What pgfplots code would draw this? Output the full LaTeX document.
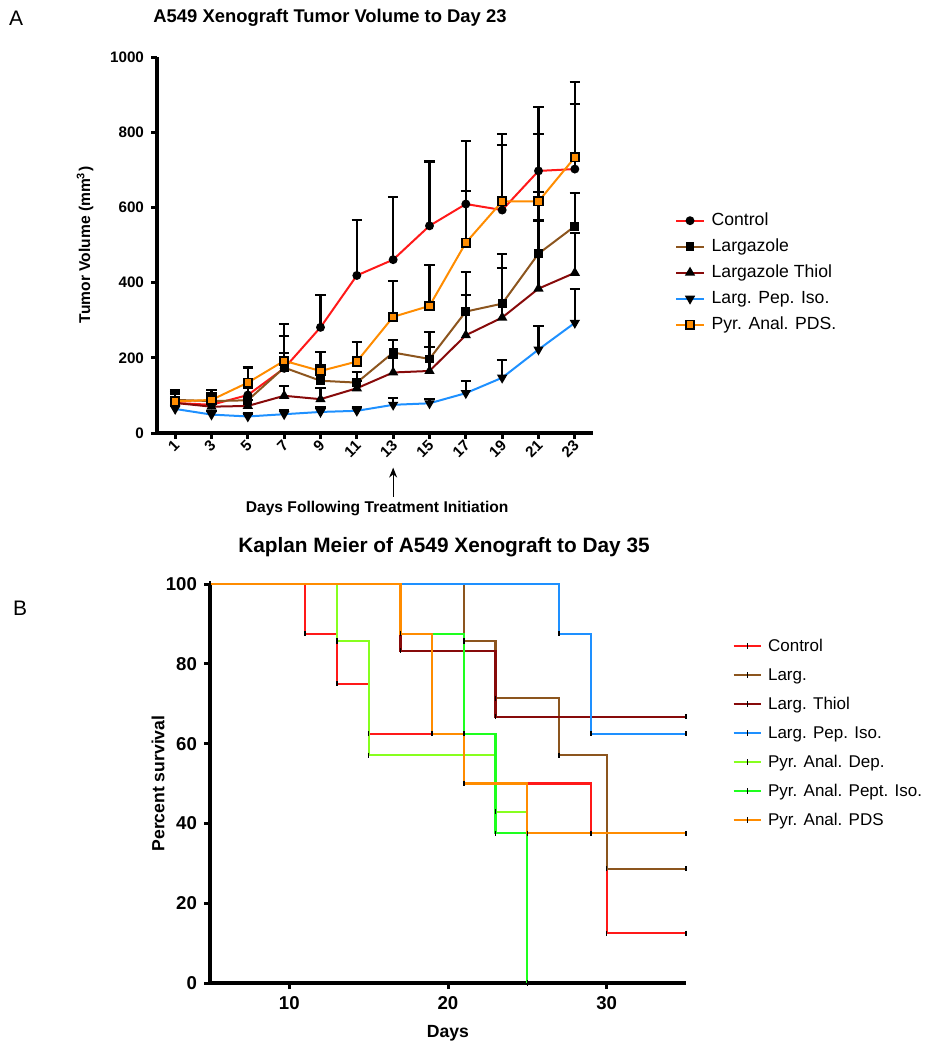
\documentclass[border=0pt]{standalone}
\usepackage{pgfplots}
\pgfplotsset{compat=1.18}
\usepackage{fontspec}
\setmainfont{Liberation Sans}
\usetikzlibrary{arrows.meta}
\definecolor{cCtrl}{RGB}{255,25,25}
\definecolor{cLarg}{RGB}{140,85,30}
\definecolor{cThiol}{RGB}{135,10,10}
\definecolor{cPep}{RGB}{30,144,255}
\definecolor{cPDS}{RGB}{255,140,0}
\definecolor{cDep}{RGB}{135,255,30}
\definecolor{cPept}{RGB}{30,255,30}

\pgfplotstableread{
x y e
1 80 33
3 75 40
5 101 20
7 172 118
9 281 87
11 419 148
13 461 166
15 551 171
17 609 168
19 593 203
21 697 170
23 702 172
}\ctrl
\pgfplotstableread{
x y e
1 88 15
3 85 20
5 87 37
7 174 38
9 139 42
11 134 28
13 214 33
15 197 72
17 323 105
19 344 133
21 477 163
23 550 88
}\larg
\pgfplotstableread{
x y e
1 80 10
3 70 10
5 72 15
7 99 25
9 90 30
11 119 20
13 161 40
15 165 64
17 260 108
19 307 132
21 384 181
23 426 105
}\thiol
\pgfplotstableread{
x y e
1 64 10
3 49 10
5 44 8
7 50 10
9 56 12
11 59 10
13 75 18
15 79 11
17 106 33
19 147 47
21 222 63
23 293 91
}\pep
\pgfplotstableread{
x y e
1 84 25
3 88 27
5 134 40
7 192 67
9 165 51
11 190 51
13 309 96
15 338 108
17 506 137
19 616 150
21 616 180
23 733 201
}\pds

\pgfplotsset{
  mystyle/.style={
    scale only axis,
    anchor=south west,
    axis lines=left,
    axis line style={-, line width=1.75pt, black},
    x axis line style={-},
    y axis line style={-},
    tick align=outside,
    major tick length=3pt,
    tick style={line width=1.5pt, black},
    /pgf/number format/assume math mode=true,
    /pgf/number format/set thousands separator={},
    legend cell align=left,
    legend image code/.code={\draw[mark repeat=2,mark phase=2,##1] plot coordinates {(0cm,0cm)(0.24cm,0cm)(0.48cm,0cm)};},
  },
  ebar/.style={error bars/.cd, y dir=plus, y explicit,
    error bar style={line width=1.1pt, black},
    error mark options={line width=1.1pt, black, mark size=2.6pt, rotate=90}},
}

\begin{document}
\begin{tikzpicture}
\useasboundingbox (0,0) rectangle (462.5pt,-525pt);
\node[font=\fontsize{10.5}{12}\selectfont, anchor=west] at (1pt,-9pt) {A};
\node[font=\fontsize{10.5}{12}\selectfont, anchor=west] at (3pt,-304pt) {B};
\node[font=\bfseries\fontsize{9.2}{11}\selectfont] at (165pt,-9pt) {A549 Xenograft Tumor Volume to Day 23};
\node[font=\bfseries\fontsize{10.4}{12}\selectfont] at (222pt,-273.5pt) {Kaplan Meier of A549 Xenograft to Day 35};

\begin{axis}[mystyle,
  at={(78.5pt,-216.5pt)}, width=218pt, height=188pt,
  xmin=0, xmax=24, ymin=0, ymax=1000,
  xtick={1,3,...,23}, ytick={0,200,...,1000},
  clip=false,
  tick label style={font=\bfseries\fontsize{7.6}{9}\selectfont},
  xticklabel style={rotate=45, anchor=east, inner sep=0.3pt, xshift=-0.5pt, yshift=-2pt},
  every axis y label/.style={at={(axis description cs:-0.165,0.5)}, rotate=90, anchor=center, font=\bfseries\fontsize{7.8}{9}\selectfont},
  ylabel={Tumor Volume (mm\textsuperscript{3})},
  every axis x label/.style={at={(axis description cs:0.505,-0.202)}, anchor=center, font=\bfseries\fontsize{7.8}{9}\selectfont},
  xlabel={Days Following Treatment Initiation},
  legend style={at={(axis description cs:1.188,0.595)}, anchor=north west, draw=none, fill=none, inner sep=0pt,
    font=\fontsize{8.8}{10}\selectfont, row sep=2pt, column sep=2.5pt,
    nodes={inner sep=1pt, text height=7pt, text depth=2pt}},
]
\addplot[cCtrl, line width=1pt, mark=*, mark size=1.7pt, mark options={black, fill=black}, ebar] table[x=x,y=y,y error=e] {\ctrl};
\addlegendentry{Control}
\addplot[cLarg, line width=1pt, mark=square*, mark size=1.7pt, mark options={black, fill=black}, ebar] table[x=x,y=y,y error=e] {\larg};
\addlegendentry{Largazole}
\addplot[cThiol, line width=1pt, mark=triangle*, mark size=2pt, mark options={black, fill=black}, ebar] table[x=x,y=y,y error=e] {\thiol};
\addlegendentry{Largazole Thiol}
\addplot[cPep, line width=1pt, mark=triangle*, mark size=2pt, mark options={black, fill=black, rotate=180}, ebar] table[x=x,y=y,y error=e] {\pep};
\addlegendentry{Larg. Pep. Iso.}
\addplot[cPDS, line width=1pt, mark=square*, mark size=2.1pt, mark options={draw=black, fill=cPDS, line width=0.9pt}, ebar] table[x=x,y=y,y error=e] {\pds};
\addlegendentry{Pyr. Anal. PDS.}
\draw[-{Stealth[length=5pt,width=4pt]}, line width=0.5pt] (axis cs:13,-170) -- (axis cs:13,-92);
\end{axis}

\begin{axis}[mystyle,
  at={(105pt,-491.5pt)}, width=238pt, height=199.5pt,
  xmin=5, xmax=35, ymin=0, ymax=100,
  xtick={10,20,30}, ytick={0,20,...,100},
  clip=false,
  tick label style={font=\bfseries\fontsize{9.3}{11}\selectfont},
  every axis y label/.style={at={(axis description cs:-0.109,0.5)}, rotate=90, anchor=center, font=\bfseries\fontsize{8.8}{10}\selectfont},
  ylabel={Percent survival},
  every axis x label/.style={at={(axis description cs:0.5,-0.125)}, anchor=center, font=\bfseries\fontsize{8.8}{10}\selectfont},
  xlabel={Days},
  legend style={at={(axis description cs:1.097,0.873)}, anchor=north west, draw=none, fill=none, inner sep=0pt,
    font=\fontsize{8.5}{10}\selectfont, row sep=3.5pt, column sep=2pt,
    nodes={inner sep=1pt, text height=7pt, text depth=2pt}},
  every axis plot/.append style={const plot, line width=1.1pt, mark=|, mark size=1.3pt, mark options={black, line width=0.8pt}},
]
\addplot[cCtrl] coordinates {(5,100)(11,87.5)(13,75)(15,62.5)(21,50)(29,37.5)(30,12.5)(35,12.5)};
\addlegendentry{Control}
\addplot[cLarg] coordinates {(5,100)(21,85.7)(23,71.4)(27,57.1)(30,28.6)(35,28.6)};
\addlegendentry{Larg.}
\addplot[cThiol] coordinates {(5,100)(17,83.3)(23,66.7)(35,66.7)};
\addlegendentry{Larg. Thiol}
\addplot[cPep] coordinates {(5,100)(27,87.5)(29,62.5)(35,62.5)};
\addlegendentry{Larg. Pep. Iso.}
\addplot[cDep] coordinates {(5,100)(13,85.7)(15,57.1)(23,42.9)(25,0)};
\addlegendentry{Pyr. Anal. Dep.}
\addplot[cPept] coordinates {(5,100)(17,87.5)(21,62.5)(23,37.5)(25,0)};
\addlegendentry{Pyr. Anal. Pept. Iso.}
\addplot[cPDS] coordinates {(5,100)(17,87.5)(19,62.5)(21,50)(25,37.5)(35,37.5)};
\addlegendentry{Pyr. Anal. PDS}
\end{axis}
\end{tikzpicture}
\end{document}
